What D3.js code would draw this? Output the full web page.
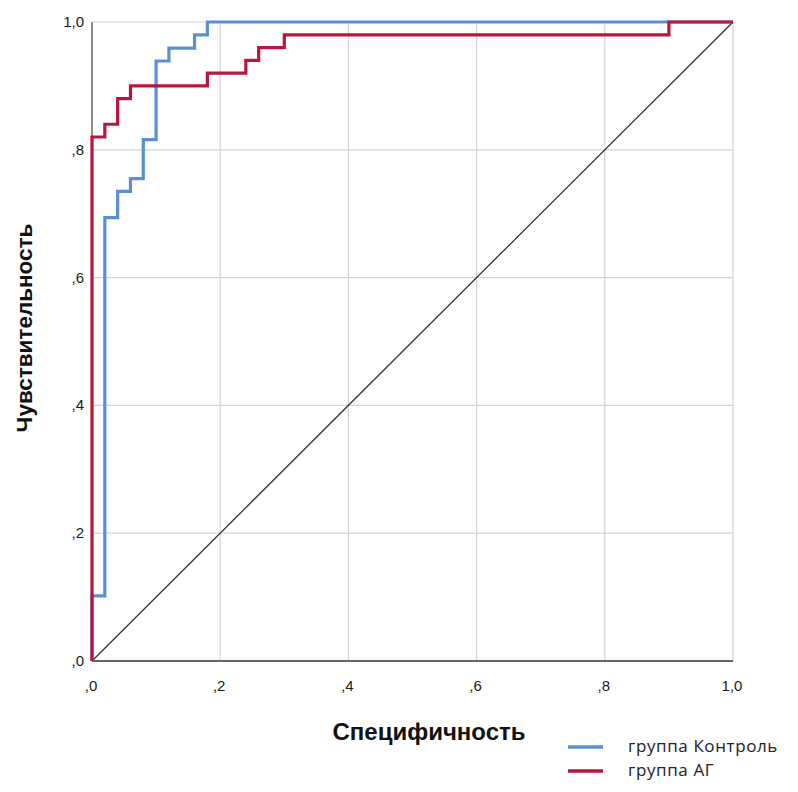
<!DOCTYPE html>
<html>
<head>
<meta charset="utf-8">
<script src="https://cdn.jsdelivr.net/npm/d3@7"></script>
<style>
  html, body { margin: 0; padding: 0; background: #fff; }
  svg { display: block; }
</style>
</head>
<body>
<svg id="chart" width="798" height="792"></svg>
<script>
// ROC curves: step points (1 - specificity, sensitivity)
const controlFpr = [0, 0, 0.02, 0.02, 0.04, 0.04, 0.06, 0.06, 0.08, 0.08, 0.10, 0.10, 0.12, 0.12, 0.16, 0.16, 0.18, 0.18, 1.0];
const controlTpr = [0, 0.102, 0.102, 0.694, 0.694, 0.735, 0.735, 0.755, 0.755, 0.816, 0.816, 0.939, 0.939, 0.959, 0.959, 0.98, 0.98, 1.0, 1.0];

const agFpr = [0, 0, 0.02, 0.02, 0.04, 0.04, 0.06, 0.06, 0.18, 0.18, 0.24, 0.24, 0.26, 0.26, 0.30, 0.30, 0.90, 0.90, 1.0];
const agTpr = [0, 0.82, 0.82, 0.84, 0.84, 0.88, 0.88, 0.90, 0.90, 0.92, 0.92, 0.94, 0.94, 0.96, 0.96, 0.98, 0.98, 1.0, 1.0];

const tickValues = [0, 0.2, 0.4, 0.6, 0.8, 1.0];
const tickLabels = [",0", ",2", ",4", ",6", ",8", "1,0"];
const seriesNames = ["группа Контроль", "группа АГ"];
const seriesColors = ["#5b8fd0", "#bb153d"];

const svg = d3.select("#chart");
const x = d3.scaleLinear().domain([0, 1]).range([92, 733]);
const y = d3.scaleLinear().domain([0, 1]).range([661, 22]);

// gridlines
svg.append("g").selectAll("line").data(tickValues.slice(1)).join("line")
  .attr("x1", d => x(d)).attr("x2", d => x(d))
  .attr("y1", y(0)).attr("y2", y(1))
  .attr("stroke", "#d4d4d4").attr("stroke-width", 1.2);
svg.append("g").selectAll("line").data(tickValues.slice(1)).join("line")
  .attr("x1", x(0)).attr("x2", x(1))
  .attr("y1", d => y(d)).attr("y2", d => y(d))
  .attr("stroke", "#d4d4d4").attr("stroke-width", 1.2);

// reference diagonal
svg.append("line")
  .attr("x1", x(0)).attr("y1", y(0)).attr("x2", x(1)).attr("y2", y(1))
  .attr("stroke", "#333").attr("stroke-width", 1.3);

// axis lines
svg.append("line").attr("x1", x(0)).attr("x2", x(0)).attr("y1", y(0)).attr("y2", y(1))
  .attr("stroke", "#666").attr("stroke-width", 1.5);
svg.append("line").attr("x1", x(0)).attr("x2", x(1)).attr("y1", y(0)).attr("y2", y(0))
  .attr("stroke", "#666").attr("stroke-width", 2);

// curves
const line = d3.line().x(d => x(d[0])).y(d => y(d[1]));
svg.append("path").datum(d3.zip(controlFpr, controlTpr))
  .attr("d", line).attr("fill", "none")
  .attr("stroke", seriesColors[0]).attr("stroke-width", 3.2);
svg.append("path").datum(d3.zip(agFpr, agTpr))
  .attr("d", line).attr("fill", "none")
  .attr("stroke", seriesColors[1]).attr("stroke-width", 3.2);

// tick labels
const fontTick = "'Liberation Sans Narrow', 'Liberation Sans', Arial, sans-serif";
svg.append("g").selectAll("text").data(tickValues).join("text")
  .attr("x", d => x(d) - 1).attr("y", 691)
  .attr("text-anchor", "middle")
  .attr("font-family", fontTick).attr("font-size", 15).attr("fill", "#1a1a1a")
  .text((d, i) => tickLabels[i]);
svg.append("g").selectAll("text").data(tickValues).join("text")
  .attr("x", 84).attr("y", d => y(d) + 5)
  .attr("text-anchor", "end")
  .attr("font-family", fontTick).attr("font-size", 15).attr("fill", "#1a1a1a")
  .text((d, i) => tickLabels[i]);

// axis titles
svg.append("text")
  .attr("x", 429).attr("y", 740)
  .attr("text-anchor", "middle")
  .attr("font-family", "'Liberation Sans', Arial, sans-serif")
  .attr("font-weight", "bold").attr("font-size", 24).attr("fill", "#111")
  .text("Специфичность");
svg.append("text")
  .attr("transform", "translate(32, 328) rotate(-90)")
  .attr("text-anchor", "middle")
  .attr("font-family", "'Liberation Sans', Arial, sans-serif")
  .attr("font-weight", "bold").attr("font-size", 22.5).attr("fill", "#111")
  .text("Чувствительность");

// legend
const legend = svg.append("g");
seriesNames.forEach((name, i) => {
  const ly = 747 + i * 24;
  legend.append("line")
    .attr("x1", 568).attr("x2", 603).attr("y1", ly).attr("y2", ly)
    .attr("stroke", seriesColors[i]).attr("stroke-width", 3.5);
  legend.append("text")
    .attr("x", 628).attr("y", ly + 5)
    .attr("font-family", "'Open Sans', 'Noto Sans', sans-serif")
    .attr("font-size", 17).attr("letter-spacing", 0.6).attr("fill", "#222")
    .text(name);
});
</script>
</body>
</html>
